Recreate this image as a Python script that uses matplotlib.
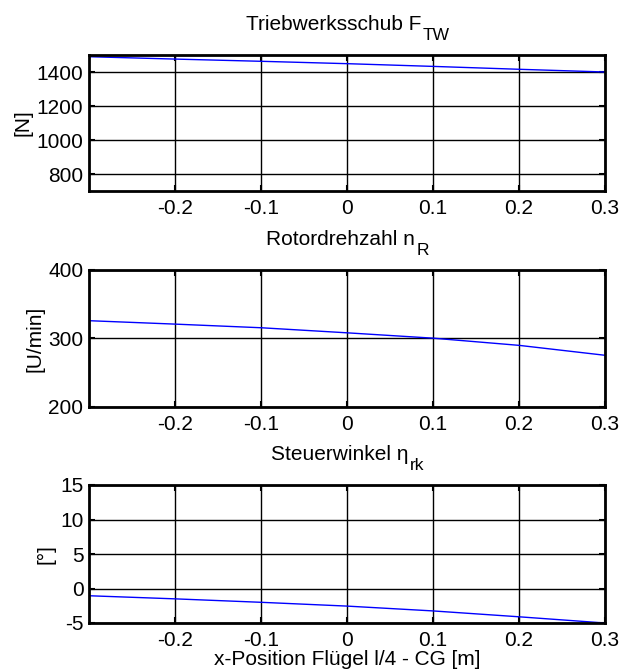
import matplotlib
matplotlib.use("Agg")
import matplotlib.pyplot as plt

plt.rcParams['font.family'] = ['Liberation Sans', 'DejaVu Sans']
plt.rcParams['axes.unicode_minus'] = False

# Data
x_pos = [-0.3, -0.2, -0.1, 0.0, 0.1, 0.2, 0.3]
thrust = [1490, 1476, 1463, 1449, 1433, 1416, 1400]
rotor_rpm = [326, 321, 315.7, 308.3, 300.5, 290, 275.5]
control_angle = [-1.05, -1.5, -2.0, -2.55, -3.25, -4.1, -5.0]

title_main = ['Triebwerksschub F', 'Rotordrehzahl n', 'Steuerwinkel \u03b7']
title_sub = ['TW', 'R', 'rk']
ylabels = ['[N]', '[U/min]', '[\u00b0]']
ylims = [(700, 1500), (200, 400), (-5, 15)]
yticks = [[800, 1000, 1200, 1400], [200, 300, 400], [-5, 0, 5, 10, 15]]
xticks = [-0.2, -0.1, 0, 0.1, 0.2, 0.3]
xticklabels = ['-0.2', '-0.1', '0', '0.1', '0.2', '0.3']
series = [thrust, rotor_rpm, control_angle]

W, H = 623, 672
fig = plt.figure(figsize=(W / 100, H / 100), dpi=100)
renderer = fig.canvas.get_renderer()

# axes boxes in pixels: (top, bottom)
boxes = [(55, 191), (270, 407), (485, 623)]
left, right = 89, 605
FS = 15
SUBFS = 12.5

for i, (top, bottom) in enumerate(boxes):
    ax = fig.add_axes([left / W, 1 - bottom / H, (right - left) / W, (bottom - top) / H])
    ax.plot(x_pos, series[i], color='#0000ff', lw=1.0, clip_on=True)
    ax.set_xlim(-0.3, 0.3)
    ax.set_ylim(*ylims[i])
    ax.set_xticks(xticks)
    ax.set_xticklabels(xticklabels)
    ax.set_yticks(yticks[i])
    ax.grid(True, color='black', lw=1.0, ls='-')
    ax.set_axisbelow(True)
    for s in ax.spines.values():
        s.set_linewidth(2.0)
        s.set_color('black')
    ax.tick_params(direction='in', length=4, width=1.5, labelsize=FS, pad=4,
                   top=True, right=True)
    ax.tick_params(axis='x', pad=5.5)
    ax.set_ylabel(ylabels[i], fontsize=FS, labelpad=3)
    if i == 2:
        ax.set_xlabel('x-Position Fl\u00fcgel l/4 - CG [m]', fontsize=FS, labelpad=0.5)

    # title with large, low subscript (MATLAB style)
    cx = (left + right) / 2
    base_y = top - 25
    t_main = fig.text(0, 1 - base_y / H, title_main[i], fontsize=FS,
                      ha='left', va='baseline')
    t_sub = fig.text(0, 1 - (base_y + 10) / H, title_sub[i], fontsize=SUBFS,
                     ha='left', va='baseline')
    w_main = t_main.get_window_extent(renderer).width
    w_sub = t_sub.get_window_extent(renderer).width
    x0 = cx - (w_main + w_sub) / 2
    t_main.set_x(x0 / W)
    t_sub.set_x((x0 + w_main + 1) / W)

fig.savefig('out.png', dpi=100)
